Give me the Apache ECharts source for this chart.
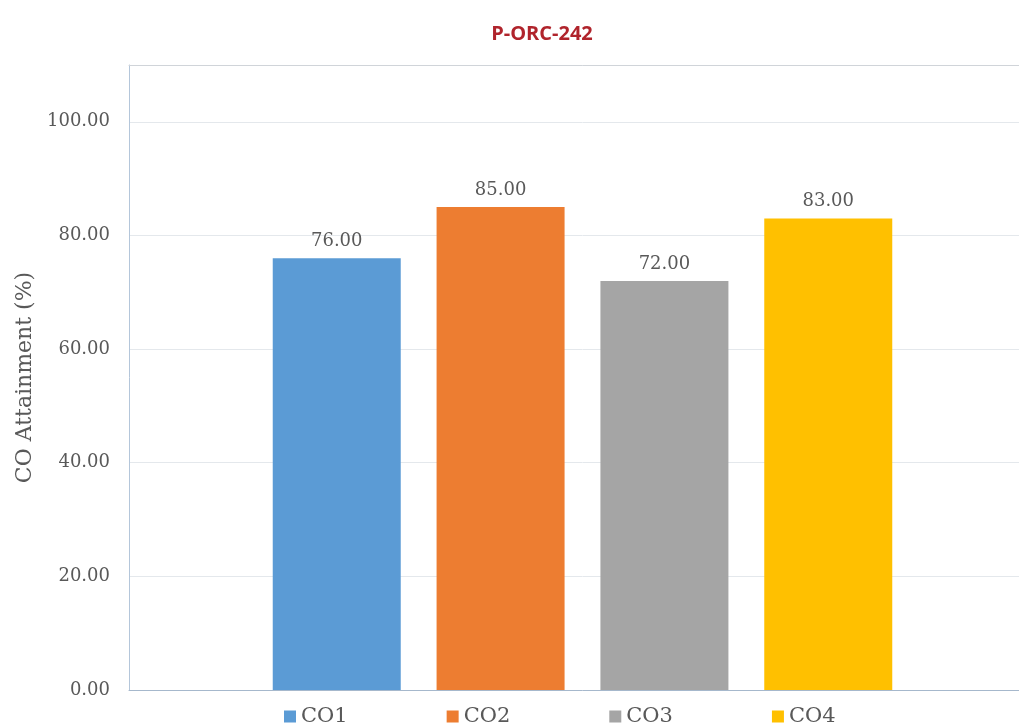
<!DOCTYPE html>
<html>
<head>
<meta charset="utf-8">
<script src="https://cdn.jsdelivr.net/npm/echarts@6/dist/echarts.min.js"></script>
<style>
html,body{margin:0;padding:0;background:#fff;overflow:hidden;width:1019px;height:726px;}
#c{width:1036px;height:726px;}
</style>
</head>
<body>
<div id="c"></div>
<script>
const titleText = 'P-ORC-242';
const seriesNames = ['CO1', 'CO2', 'CO3', 'CO4'];
const seriesValues = [76, 85, 72, 83];
const seriesColors = ['#5B9BD5', '#ED7D31', '#A5A5A5', '#FFC000'];
const yAxisName = 'CO Attainment (%)';
const yMin = 0, yMax = 110, yStep = 20;

const serif = '"DejaVu Serif", "Liberation Serif", serif';
const chart = echarts.init(document.getElementById('c'));
chart.setOption({
  animation: false,
  title: {
    text: titleText,
    left: 537, top: 19, textAlign: 'center',
    textStyle: { color: '#B0242C', fontSize: 20, fontWeight: 'bold', fontFamily: '"Open Sans", sans-serif' }
  },
  legend: {
    data: seriesNames,
    left: 279, top: 701,
    itemWidth: 12, itemHeight: 12, itemGap: 99,
    icon: 'rect',
    textStyle: { fontFamily: serif, fontSize: 21, color: '#595959' }
  },
  grid: {
    left: 129, top: 65, right: 0, bottom: 36,
    show: false, containLabel: false
  },
  xAxis: [{
    type: 'category', data: [''], position: 'bottom',
    axisLine: { lineStyle: { color: '#A6B8CC' } },
    axisTick: { show: false }, axisLabel: { show: false }
  }, {
    type: 'category', data: [''], position: 'top',
    axisLine: { lineStyle: { color: '#D0D4D9' } },
    axisTick: { show: false }, axisLabel: { show: false }
  }],
  yAxis: {
    type: 'value', min: yMin, max: yMax, interval: yStep,
    name: yAxisName, nameLocation: 'middle', nameGap: 92,
    nameTextStyle: { fontFamily: serif, fontSize: 22, color: '#595959' },
    axisLine: { show: true, lineStyle: { color: '#B4C6DA' } },
    axisTick: { show: false },
    axisLabel: {
      margin: 19, fontFamily: serif, fontSize: 18, color: '#595959',
      formatter: v => v > 100 ? '' : v.toFixed(2)
    },
    splitLine: { lineStyle: { color: '#E4E8EC' } }
  },
  series: seriesNames.map((n, i) => ({
    name: n, type: 'bar', data: [seriesValues[i]], xAxisIndex: 0,
    barWidth: 128, barGap: '28%',
    itemStyle: { color: seriesColors[i] },
    label: {
      show: true, position: 'top', distance: 8,
      formatter: p => p.value.toFixed(2),
      fontFamily: serif, fontSize: 18, color: '#595959'
    }
  }))
});
</script>
</body>
</html>
